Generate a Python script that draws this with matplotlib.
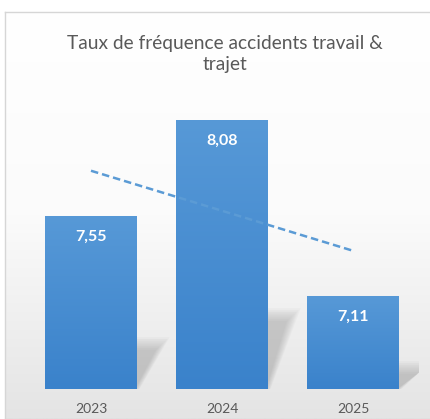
import matplotlib.pyplot as plt
import numpy as np
from matplotlib.colors import LinearSegmentedColormap
from matplotlib.patches import Polygon

years = ['2023', '2024', '2025']
taux = [7.55, 8.08, 7.11]
labels = ['7,55', '8,08', '7,11']

plt.rcParams['font.family'] = ['Lato', 'DejaVu Sans']


def main():
    fig = plt.figure(figsize=(4.31, 4.19), dpi=100)

    # chart area background (white -> light gray), thin border
    bg = fig.add_axes([5 / 431, 0, 426 / 431, 407 / 419], zorder=0)
    grad = np.linspace(0, 1, 256).reshape(-1, 1)
    bg_cmap = LinearSegmentedColormap.from_list('bg', ['#ffffff', '#fbfbfb', '#e4e4e4'])
    bg.imshow(grad, aspect='auto', cmap=bg_cmap, extent=[0, 1, 0, 1], origin='upper')
    bg.set_xlim(0, 1)
    bg.set_ylim(0, 1)
    bg.set_xticks([])
    bg.set_yticks([])
    for s in bg.spines.values():
        s.set_color('#d6d6d6')
        s.set_linewidth(1)

    ax = fig.add_axes([25.5 / 431, 30 / 419, 393 / 431, 291 / 419], zorder=1)
    ax.patch.set_alpha(0)
    x = np.arange(len(years))
    base = 6.6
    w = 0.7

    # soft perspective shadows
    for k in range(8):
        sh = 0.01 * k
        for xi, v in zip(x, taux):
            h = (v - base) * 0.3 - sh
            xl, xr = xi - w / 2 + 0.03, xi + w / 2
            pts = [(xl, base), (xr + 0.02 - sh * 0.5, base),
                   (xr + 0.25 - sh * 1.5, base + h), (xl + 0.2, base + h)]
            ax.add_patch(Polygon(pts, closed=True, color='#6f6f6f', alpha=0.045, lw=0, zorder=1))

    bars = ax.bar(x, np.array(taux) - base, bottom=base, width=w, color='none', zorder=2)
    bar_cmap = LinearSegmentedColormap.from_list('bar', ['#5799d7', '#3a82cb'])
    for b in bars:
        bx, by = b.get_x(), b.get_y()
        im = ax.imshow(grad, aspect='auto', cmap=bar_cmap, zorder=2,
                       extent=[bx, bx + b.get_width(), by, by + b.get_height()], origin='upper')
        im.set_clip_path(b)

    # linear trendline
    k1, k0 = np.polyfit(x, taux, 1)
    ax.plot(x, k0 + k1 * x, linestyle=(0, (3, 1.6)), color='#5b9bd5', lw=1.8, zorder=3)

    for xi, v, lab in zip(x, taux, labels):
        ax.annotate(lab, (xi, v), xytext=(0, -15), textcoords='offset points',
                    ha='center', va='center', color='white', fontsize=11.5, fontweight='bold', zorder=4)

    ax.set_xlim(-0.5, 2.5)
    ax.set_ylim(base, 8.2)
    ax.set_xticks(x)
    ax.set_xticklabels(years, color='#595959', fontsize=10)
    ax.tick_params(axis='x', length=0, pad=10)
    ax.set_yticks([])
    for s in ax.spines.values():
        s.set_visible(False)

    fig.text(225 / 431, 1 - 54 / 419, 'Taux de fréquence accidents travail &\ntrajet',
             ha='center', va='center', fontsize=13.8, color='#595959', linespacing=1.3)

    fig.savefig('out.png', dpi=100)


if __name__ == "__main__":
    main()
